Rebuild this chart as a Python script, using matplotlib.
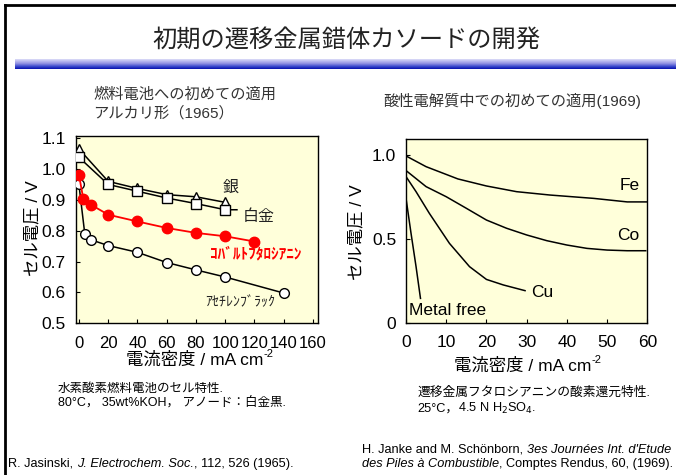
import matplotlib
matplotlib.use("Agg")
import matplotlib.pyplot as plt
import numpy as np
from matplotlib.colors import LinearSegmentedColormap
from matplotlib.lines import Line2D
from matplotlib.offsetbox import TextArea, HPacker, AnnotationBbox

plt.rcParams['font.family'] = ['Liberation Sans', 'Noto Sans CJK JP', 'DejaVu Sans']

W, H = 676, 475

# ---------------- data ----------------
title = "初期の遷移金属錯体カソードの開発"

# Left: alkaline fuel cell (1965)
ag_x = [0, 20, 40, 60, 80, 100]
ag_y = [1.065, 0.960, 0.937, 0.917, 0.910, 0.892]
pt_x = [0, 20, 40, 60, 80, 100]
pt_y = [1.038, 0.950, 0.928, 0.906, 0.888, 0.868]
pt_line_x = [0, 20, 40, 60, 80, 100, 108]
pt_line_y = [1.038, 0.950, 0.928, 0.906, 0.888, 0.868, 0.868]
copc_x = [0, 3, 8, 20, 40, 60, 80, 100, 120]
copc_y = [0.982, 0.903, 0.885, 0.852, 0.830, 0.809, 0.793, 0.782, 0.765]
ab_x = [0, 4, 8, 20, 40, 60, 80, 100, 140]
ab_y = [0.950, 0.790, 0.771, 0.752, 0.730, 0.697, 0.673, 0.650, 0.598]
left_xticks = [0, 20, 40, 60, 80, 100, 120, 140, 160]
left_yticks = [0.5, 0.6, 0.7, 0.8, 0.9, 1.0, 1.1]
left_yticklabels = ["0.5", "0.6", "0.7", "0.8", "0.9", "1.0", "1.1"]

# Right: acid electrolyte (1969)
fe_x = [0, 5, 12.9, 20, 27.5, 35.8, 46.7, 55, 60]
fe_y = [0.994, 0.930, 0.857, 0.815, 0.781, 0.761, 0.741, 0.720, 0.720]
co_x = [0, 5, 10, 15, 20, 25, 30, 35, 40, 45, 50, 55, 59.6]
co_y = [0.907, 0.811, 0.751, 0.682, 0.612, 0.563, 0.523, 0.489, 0.463, 0.443, 0.433, 0.429, 0.429]
cu_x = [0, 2.5, 5.8, 10.8, 15.8, 20, 24.2, 29.6]
cu_y = [0.871, 0.781, 0.652, 0.473, 0.334, 0.258, 0.225, 0.191]
mf_x = [0, 1.25, 2.5, 3.6]
mf_y = [0.742, 0.533, 0.334, 0.145]
right_xticks = [0, 10, 20, 30, 40, 50, 60]
right_yticks = [0, 0.5, 1.0]
right_yticklabels = ["0", "0.5", "1.0"]

BG = '#FFFFDA'


def fx(x):
    return x / W


def fy(y):
    return 1 - y / H


fig = plt.figure(figsize=(W / 100, H / 100), dpi=100)

# frame lines
fig.add_artist(Line2D([fx(5), fx(5)], [fy(5), fy(476)], color='black', lw=2.0))
fig.add_artist(Line2D([fx(5), fx(677)], [fy(5), fy(5)], color='black', lw=2.0))

# gradient bar
axg = fig.add_axes([fx(15), fy(69), fx(676 - 15), (69 - 59) / H])
cmap = LinearSegmentedColormap.from_list('bar', [(0, '#DCDCF8'), (0.45, '#9090E2'),
                                                  (0.75, '#3848CC'), (1.0, '#0810AE')])
axg.imshow(np.linspace(0, 1, 50).reshape(-1, 1), aspect='auto', cmap=cmap,
           extent=[0, 1, 0, 1], origin='upper')
axg.set_axis_off()

fig.text(fx(346), fy(40), title, ha='center', va='center', fontsize=17.5, color='#222222')

# ---------------- left axes ----------------
axL = fig.add_axes([fx(75.7), fy(323.3), fx(317.7 - 75.7), (323.3 - 136) / H])
axL.set_facecolor(BG)
axL.plot(ag_x, ag_y, color='black', lw=1.1, marker='^', ms=7, mfc='white', mec='black', mew=1.0, zorder=3)
axL.plot(pt_line_x, pt_line_y, color='black', lw=1.1, zorder=2)
axL.plot(pt_x, pt_y, ls='none', marker='s', ms=6.5, mfc='white', mec='black', mew=1.0, zorder=3)
axL.plot(copc_x, copc_y, color='#FF0000', lw=1.3, marker='o', ms=7.5, mfc='#FF0000', mec='#FF0000', zorder=4)
axL.plot(ab_x, ab_y, color='black', lw=1.1, marker='o', ms=7, mfc='white', mec='black', mew=1.0, zorder=3)
axL.set_xlim(-2.2, 163.2)
axL.set_ylim(0.5, 1.107)
axL.set_xticks(left_xticks)
axL.set_yticks(left_yticks)
axL.set_yticklabels(left_yticklabels)
axL.tick_params(axis='x', direction='in', length=3, labelsize=12, pad=9)
axL.tick_params(axis='y', direction='in', length=3, labelsize=12.5, pad=7)
for s in axL.spines.values():
    s.set_linewidth(1.0)

axL.text(103.6, 0.942, "銀", fontsize=11.5, ha='center', va='center', color='#222222')
axL.text(123, 0.845, "白金", fontsize=11.5, ha='center', va='center', color='#222222')
axL.text(121, 0.728, "ｺﾊﾞﾙﾄﾌﾀﾛｼｱﾆﾝ", fontsize=11, ha='center', va='center', color='#FF0000',
         fontweight='bold', family=['Noto Sans CJK JP'])
axL.text(110, 0.570, "ｱｾﾁﾚﾝﾌﾞﾗｯｸ", fontsize=10, ha='center', va='center', color='#222222',
         family=['Noto Sans CJK JP'])

fig.text(fx(93), fy(95), "燃料電池への初めての適用", fontsize=11, ha='left', va='center', color='#333333')
fig.text(fx(93), fy(113), "アルカリ形（1965）", fontsize=11, ha='left', va='center', color='#333333')

t1 = fig.text(fx(195), fy(360), "電流密度 / mA cm", fontsize=12.5, ha='center', va='center')
axL.annotate("-2", xy=(1.0, 0.55), xycoords=t1, fontsize=8, ha='left', va='bottom')
fig.text(fx(33), fy(228), "セル電圧 / V", fontsize=12.5, ha='center', va='center', rotation=90)

# ---------------- right axes ----------------
axR = fig.add_axes([fx(406), fy(322.7), fx(647.3 - 406), (322.7 - 139) / H])
axR.set_facecolor(BG)
for xs, ys in [(fe_x, fe_y), (co_x, co_y), (cu_x, cu_y), (mf_x, mf_y)]:
    axR.plot(xs, ys, color='black', lw=1.1)
axR.set_xlim(0, 60)
axR.set_ylim(0, 1.095)
axR.set_xticks(right_xticks)
axR.set_yticks(right_yticks)
axR.set_yticklabels(right_yticklabels)
axR.tick_params(axis='x', direction='in', length=3, labelsize=12.5, pad=9)
axR.tick_params(axis='y', direction='in', length=3, labelsize=12.5, pad=7)
for s in axR.spines.values():
    s.set_linewidth(1.0)

axR.text(55.5, 0.815, "Fe", fontsize=12.5, ha='center', va='center')
axR.text(55.3, 0.52, "Co", fontsize=12.5, ha='center', va='center')
axR.text(33.8, 0.18, "Cu", fontsize=12.5, ha='center', va='center')
axR.text(0.8, 0.07, "Metal free", fontsize=12.5, ha='left', va='center')

fig.text(fx(383), fy(101), "酸性電解質中での初めての適用(1969)", fontsize=11, ha='left', va='center', color='#333333')
t2 = fig.text(fx(523), fy(366), "電流密度 / mA cm", fontsize=12.5, ha='center', va='center')
axR.annotate("-2", xy=(1.0, 0.55), xycoords=t2, fontsize=8, ha='left', va='bottom')
fig.text(fx(357), fy(232), "セル電圧 / V", fontsize=12.5, ha='center', va='center', rotation=90)


# ---------------- notes ----------------
def rich(parts, x, y, fontsize=9.2):
    boxes = [TextArea(s, textprops=dict(fontsize=fontsize, fontstyle=st)) for s, st in parts]
    pack = HPacker(children=boxes, align='baseline', pad=0, sep=0)
    ab = AnnotationBbox(pack, (fx(x), fy(y)), xycoords='figure fraction', box_alignment=(0, 0.5),
                        frameon=False, pad=0)
    fig.add_artist(ab)


fig.text(fx(58), fy(389), "水素酸素燃料電池のセル特性.", fontsize=9, ha='left', va='center')
fig.text(fx(58), fy(402), "80°C， 35wt%KOH， アノード：白金黒.", fontsize=9, ha='left', va='center')
fig.text(fx(417), fy(393), "遷移金属フタロシアニンの酸素還元特性.", fontsize=9.2, ha='left', va='center')
rich([("25°C，", 'normal'), (r"4.5 N H$_2$SO$_4$.", 'normal')], 417, 408, fontsize=9.2)

rich([("R. Jasinski, ", 'normal'), ("J. Electrochem. Soc.", 'italic'),
      (", 112, 526 (1965).", 'normal')], 8, 464)
rich([("H. Janke and M. Schönborn, ", 'normal'), ("3es Journées Int. d'Etude", 'italic')], 362, 450)
rich([("des Piles à Combustible", 'italic'), (", Comptes Rendus, 60, (1969).", 'normal')], 362, 464)

fig.savefig("out.png", dpi=100)
